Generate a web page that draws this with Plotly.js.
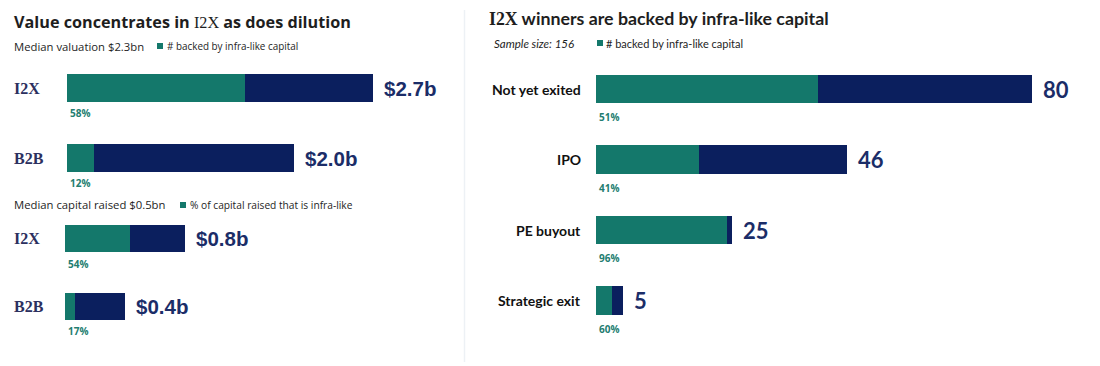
<!DOCTYPE html>
<html>
<head>
<meta charset="utf-8">
<script src="https://cdn.plot.ly/plotly-3.0.1.min.js"></script>
<style>
  html, body { margin: 0; padding: 0; background: #ffffff; }
  #chart { width: 1100px; height: 366px; }
</style>
</head>
<body>
<div id="chart"></div>
<script>
// ---- Data ----
const valCategories = ['I2X', 'B2B'];
const valTotals = [2.7, 2.0];            // median valuation, $bn
const valInfraShare = [0.58, 0.12];      // share backed by infra-like capital

const capCategories = ['I2X', 'B2B'];
const capTotals = [0.8, 0.4];            // median capital raised, $bn
const capInfraShare = [0.54, 0.17];      // share of capital raised that is infra-like

const exitCategories = ['Not yet exited', 'IPO', 'PE buyout', 'Strategic exit'];
const exitCounts = [80, 46, 25, 5];
const exitInfraShare = [0.51, 0.41, 0.96, 0.60];

// ---- Styling ----
const TEAL = '#14786b';
const NAVY = '#0b1f5e';
const PCT_TEAL = '#237d70';
const LABEL_NAVY = '#1b2d68';
const SERIF_NAVY = '#2c305f';
const W = 1100, H = 366;
const px = x => x / W;
const py = y => 1 - y / H;

const SANS = 'Open Sans, Noto Sans, sans-serif';
const CAL = 'Lato, Open Sans, sans-serif';
const SERIF = 'Liberation Serif, DejaVu Serif, serif';

function stackTraces(cats, totals, shares, xa, ya) {
  const infra = totals.map((t, i) => t * shares[i]);
  const rest = totals.map((t, i) => t - infra[i]);
  const common = { type: 'bar', orientation: 'h', y: cats, width: 0.4,
    xaxis: xa, yaxis: ya, hoverinfo: 'skip' };
  return [
    Object.assign({}, common, { x: infra, marker: { color: TEAL, line: { width: 0 } } }),
    Object.assign({}, common, { x: rest, marker: { color: NAVY, line: { width: 0 } } })
  ];
}

const data = [
  ...stackTraces(valCategories, valTotals, valInfraShare, 'x', 'y'),
  ...stackTraces(capCategories, capTotals, capInfraShare, 'x2', 'y2'),
  ...stackTraces(exitCategories, exitCounts, exitInfraShare, 'x3', 'y3')
];

const annotations = [];
const shapes = [];

function addText(text, x, y, opts) {
  annotations.push(Object.assign({
    text, x, y, xref: 'paper', yref: 'paper', showarrow: false,
    xanchor: 'left', yanchor: 'middle'
  }, opts));
}

// Titles
addText('Value concentrates in <span style="font-family:Liberation Serif;font-weight:normal">I2X</span> as does dilution',
  px(12), py(22), { font: { family: SANS, size: 16.2, color: '#1e1e1e', weight: 700 } });
addText('<span style="font-family:Liberation Serif">I2X</span> winners are backed by infra-like capital',
  px(487), py(18), { font: { family: CAL, size: 17.8, color: '#1e1e1e', weight: 700 } });

// Sub-headings with legend keys
addText('Median valuation $2.3bn', px(12), py(46), { font: { family: SANS, size: 11.3, color: '#1e1e1e' } });
addText('# backed by infra-like capital', px(165), py(46), { font: { family: SANS, size: 9.9, color: '#1e1e1e' } });
addText('Median capital raised $0.5bn', px(12), py(205), { font: { family: SANS, size: 11.3, color: '#1e1e1e' } });
addText('% of capital raised that is infra-like', px(188), py(205), { font: { family: SANS, size: 10.2, color: '#1e1e1e' } });
addText('<i>Sample size: 156</i>', px(492), py(43), { font: { family: CAL, size: 11.5, color: '#1e1e1e' } });
addText('# backed by infra-like capital', px(604), py(43), { font: { family: CAL, size: 11, color: '#1e1e1e' } });

function keySquare(x, y) {
  shapes.push({ type: 'rect', xref: 'paper', yref: 'paper',
    x0: px(x), x1: px(x + 6), y0: py(y + 3), y1: py(y - 3),
    fillcolor: TEAL, line: { width: 0 } });
}
keySquare(157, 46);
keySquare(180, 205);
keySquare(597, 43);

// Divider between the two panels
shapes.push({ type: 'line', xref: 'paper', yref: 'paper',
  x0: px(464.5), x1: px(464.5), y0: py(10), y1: py(362),
  line: { color: '#edf1f5', width: 1.5 } });

// Per-bar labels: total at the bar end, infra share underneath, category on the left
function barLabels(cats, totals, shares, xa, ya, fmt, valFont, pctShift, catOpts) {
  cats.forEach((c, i) => {
    annotations.push({ text: fmt(totals[i]), x: totals[i], y: c, xref: xa, yref: ya,
      showarrow: false, xanchor: 'left', yanchor: 'middle', xshift: 9, font: valFont });
    annotations.push({ text: Math.round(shares[i] * 100) + '%', x: 0, y: c, xref: xa, yref: ya,
      showarrow: false, xanchor: 'left', yanchor: 'middle', yshift: pctShift, xshift: 1,
      font: { family: SANS, size: 10, color: PCT_TEAL, weight: 700 } });
    annotations.push(Object.assign({ text: c, y: c, xref: 'paper', yref: ya,
      showarrow: false, yanchor: 'middle' }, catOpts));
  });
}
const moneyFmt = v => '$' + v.toFixed(1) + 'b';
const moneyFont = { family: 'Liberation Sans, Arial, sans-serif', size: 20.5, color: LABEL_NAVY, weight: 700 };
const serifCat = { x: px(12), xanchor: 'left', font: { family: SERIF, size: 16, color: SERIF_NAVY, weight: 700 } };

barLabels(valCategories, valTotals, valInfraShare, 'x', 'y', moneyFmt, moneyFont, -25, serifCat);
barLabels(capCategories, capTotals, capInfraShare, 'x2', 'y2', moneyFmt, moneyFont, -25, serifCat);
barLabels(exitCategories, exitCounts, exitInfraShare, 'x3', 'y3', v => String(v),
  { family: CAL, size: 22, color: LABEL_NAVY, weight: 700 }, -28,
  { x: px(583), xanchor: 'right', font: { family: CAL, size: 14, color: '#111111', weight: 700 } });

const hiddenAxis = extra => Object.assign({
  showgrid: false, zeroline: false, showline: false, showticklabels: false,
  ticks: '', fixedrange: true
}, extra);

const layout = {
  width: W, height: H,
  margin: { l: 0, r: 0, t: 0, b: 0 },
  paper_bgcolor: '#ffffff', plot_bgcolor: 'rgba(0,0,0,0)',
  barmode: 'stack', showlegend: false,
  // valuation panel: 113.5 px per $bn starting at x=67
  xaxis: hiddenAxis({ domain: [px(67), px(67 + 113.5 * 3.5)], range: [0, 3.5] }),
  yaxis: hiddenAxis({ domain: [py(193), py(53)], type: 'category', range: [1.5, -0.5], anchor: 'x' }),
  // capital panel: 150 px per $bn starting at x=65
  xaxis2: hiddenAxis({ domain: [px(65), px(65 + 150 * 2.5)], range: [0, 2.5], anchor: 'y2' }),
  yaxis2: hiddenAxis({ domain: [py(339.75), py(204.75)], type: 'category', range: [1.5, -0.5], anchor: 'x2' }),
  // exits panel: 5.45 px per company starting at x=596
  xaxis3: hiddenAxis({ domain: [px(596), px(596 + 5.45 * 90)], range: [0, 90], anchor: 'y3' }),
  yaxis3: hiddenAxis({ domain: [py(335.75), py(53.75)], type: 'category', range: [3.5, -0.5], anchor: 'x3' }),
  annotations, shapes
};

Plotly.newPlot('chart', data, layout, { displayModeBar: false, staticPlot: true });
</script>
</body>
</html>
